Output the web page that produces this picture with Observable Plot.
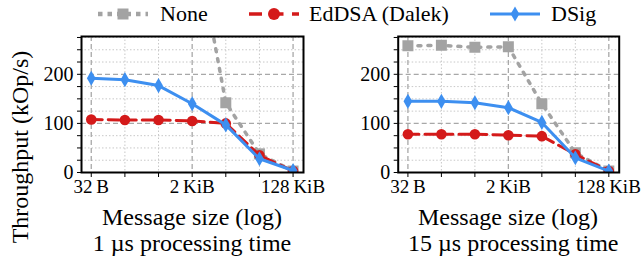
<!DOCTYPE html>
<html style="font-family:'Liberation Serif', serif">
<head>
<meta charset="utf-8">
<script src="https://cdn.jsdelivr.net/npm/d3@7"></script>
<script src="https://cdn.jsdelivr.net/npm/@observablehq/plot@0.6"></script>
<style>
  .a { font-family: 'Liberation Serif', serif; }
</style>
</head>
<body style="margin:0; padding:0; background:#fff; color:#000; font-family:'Liberation Serif', serif;">
<div id="legend" style="position:absolute; left:0; top:0;"></div>
<div id="p1" style="position:absolute; left:40px; top:26px;"></div>
<div id="p2" style="position:absolute; left:345px; top:26px;"></div>
<div class="a" style="position:absolute; left:92px; width:200px; text-align:center; top:205px; font-size:24px; line-height:24px; white-space:nowrap;">Message size (log)</div>
<div class="a" style="position:absolute; left:92px; width:200px; text-align:center; top:231px; font-size:24px; line-height:24px; white-space:nowrap;">1 µs processing time</div>
<div class="a" style="position:absolute; left:408px; width:200px; text-align:center; top:205px; font-size:24px; line-height:24px; white-space:nowrap;">Message size (log)</div>
<div class="a" style="position:absolute; left:408px; width:200px; text-align:center; top:231px; font-size:24px; line-height:24px; white-space:nowrap;">15 µs processing time</div>
<div class="a" style="position:absolute; left:-90px; width:220px; text-align:center; top:135px; font-size:24px; line-height:24px; white-space:nowrap; transform: rotate(-90deg);">Throughput (kOp/s)</div>
<script>
// ---- data ----
const sizes = [32, 128, 512, 2048, 8192, 32768, 131072];
const xTickLabels = {32: "32\u202FB", 2048: "2\u202FKiB", 131072: "128\u202FKiB"};
const seriesNames = ["None", "EdDSA (Dalek)", "DSig"];
// 1 µs processing time
const none1 = [520, 520, 515, 510, 142, 38, 3];
const eddsa1 = [108, 107, 107, 105, 100, 35, 3];
const dsig1 = [192, 189, 177, 140, 97, 28, 4];
// 15 µs processing time
const none15 = [258, 259, 255, 256, 140, 40, 3];
const eddsa15 = [78, 78, 78, 76, 74, 37, 3];
const dsig15 = [145, 145, 142, 132, 102, 30, 3];
const yMajor = [0, 100, 200];

const colors = {"None": "#a3a3a3", "EdDSA (Dalek)": "#d41a1a", "DSig": "#3d8ff0"};
const FONT = "'Liberation Serif', serif";

function rows(vals) { return sizes.map((s, i) => ({x: s, y: vals[i]})); }

function panel(none, eddsa, dsig, width, ml, mr) {
  const majorX = [32, 2048, 131072];
  const minorX = sizes.filter(s => !majorX.includes(s));
  const yTicks = d3.range(0, 276, 25);
  const minorY = yTicks.filter(v => !yMajor.includes(v));
  return Plot.plot({
    width, height: 174,
    marginLeft: ml, marginRight: mr, marginTop: 10, marginBottom: 28,
    style: {fontFamily: FONT, fontSize: "20px", background: "transparent", color: "#000"},
    x: {type: "log", base: 2, domain: [Math.pow(2, 4.42), Math.pow(2, 17.62)]},
    y: {domain: [0, 277]},
    marks: [
      Plot.gridY(minorY, {stroke: "#c8c8c8", strokeOpacity: 1, strokeDasharray: "1.5,2"}),
      Plot.gridX(minorX, {stroke: "#c8c8c8", strokeOpacity: 1, strokeDasharray: "1.5,2"}),
      Plot.gridY([100, 200], {stroke: "#a8a8a8", strokeOpacity: 1, strokeWidth: 1.3, strokeDasharray: "5,3"}),
      Plot.gridX(majorX, {stroke: "#a8a8a8", strokeOpacity: 1, strokeWidth: 1.3, strokeDasharray: "5,3"}),
      Plot.axisY(yTicks, {tickSize: 4, tickPadding: 4, fontSize: 20, label: null,
        tickFormat: d => yMajor.includes(d) ? String(d) : ""}),
      Plot.axisX(sizes, {tickSize: 5, tickPadding: 2, fontSize: 19, label: null,
        tickFormat: d => xTickLabels[d] || ""}),
      Plot.line(rows(none), {x: "x", y: "y", stroke: colors["None"], strokeWidth: 3.5, strokeDasharray: "3,7", clip: true}),
      Plot.dot(rows(none), {x: "x", y: "y", symbol: "square", r: 6.2, fill: colors["None"], clip: true}),
      Plot.line(rows(eddsa), {x: "x", y: "y", stroke: colors["EdDSA (Dalek)"], strokeWidth: 3, strokeDasharray: "11,6", clip: true}),
      Plot.dot(rows(eddsa), {x: "x", y: "y", symbol: "circle", r: 5.3, fill: colors["EdDSA (Dalek)"], clip: true}),
      Plot.line(rows(dsig), {x: "x", y: "y", stroke: colors["DSig"], strokeWidth: 3, clip: true}),
      Plot.dot(rows(dsig), {x: "x", y: "y", symbol: "diamond", r: 4.6, fill: colors["DSig"], clip: true}),
      Plot.frame({stroke: "#000", strokeWidth: 2})
    ]
  });
}

const s1 = panel(none1, eddsa1, dsig1, 290, 41, 27);
const s2 = panel(none15, eddsa15, dsig15, 298, 52.7, 24.3);
for (const s of [s1, s2]) {
  s.setAttribute("font-family", FONT);
  s.querySelectorAll("text").forEach(t => t.setAttribute("font-family", FONT));
}
document.getElementById("p1").appendChild(s1);
document.getElementById("p2").appendChild(s2);

// ---- legend ----
const legendItems = [
  {name: seriesNames[0], mx: 98, tx: 160},
  {name: seriesNames[1], mx: 249, tx: 309},
  {name: seriesNames[2], mx: 490, tx: 551}
];
const leg = document.getElementById("legend");
for (const it of legendItems) {
  const c = colors[it.name];
  let inner = "";
  if (it.name === "None") {
    inner = `<line x1="0" x2="50" y1="8" y2="8" stroke="${c}" stroke-width="4.5" stroke-dasharray="4.5,5"/><rect x="19.5" y="2.5" width="11" height="11" fill="${c}"/>`;
  } else if (it.name === "DSig") {
    inner = `<line x1="0" x2="50" y1="8" y2="8" stroke="${c}" stroke-width="3"/><path d="${d3.symbol(d3.symbolDiamond, 4.6*4.6*Math.PI)()}" transform="translate(25,8)" fill="${c}"/>`;
  } else {
    inner = `<line x1="0" x2="50" y1="8" y2="8" stroke="${c}" stroke-width="3.5" stroke-dasharray="13,8.5"/><circle cx="25" cy="8" r="6" fill="${c}"/>`;
  }
  const d = document.createElement("div");
  d.style.cssText = `position:absolute; left:${it.mx}px; top:6px;`;
  d.innerHTML = `<svg width="50" height="16" style="display:block">${inner}</svg>`;
  leg.appendChild(d);
  const t = document.createElement("div");
  t.className = "a";
  t.style.cssText = `position:absolute; left:${it.tx}px; top:3px; font-size:22px; line-height:22px; white-space:nowrap;`;
  t.textContent = it.name;
  leg.appendChild(t);
}
</script>
</body>
</html>
